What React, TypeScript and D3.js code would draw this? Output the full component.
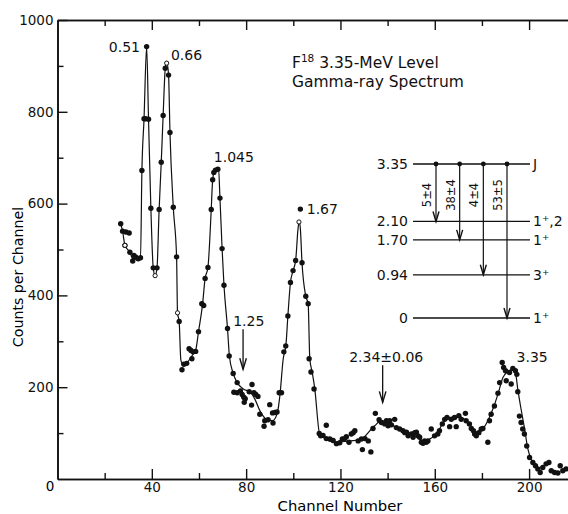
import React, { useEffect, useRef } from 'react';
import * as d3 from 'd3';

// measured points, [channel, counts per channel]
const peaksLow = [
  [26.8, 556], [27.6, 540], [29, 538], [30.4, 536], [28.6, 509], [30.7, 494], [31.9, 475],
  [32.4, 487], [33.2, 483], [34.2, 480], [35.2, 482], [35.8, 672], [36.7, 785], [37.4, 785],
  [37.8, 942], [38.6, 784], [39.6, 590], [40.6, 460], [42.2, 460], [43.1, 587], [44, 690],
  [44.8, 792], [45.7, 895], [47.1, 880], [47.7, 755], [49.1, 592], [50.5, 484], [51.6, 343],
];

const peak1045 = [
  [52.8, 238], [53.6, 250], [54.8, 252], [55.8, 284], [56.6, 280], [57.5, 277], [57, 262],
  [58.6, 278], [59.8, 321], [61.2, 382], [62, 378], [62.6, 437], [63.8, 461], [65.2, 587],
  [65.8, 652], [66.3, 668], [67, 673], [68, 675], [68.9, 612], [69.8, 502], [70.6, 422],
  [72.1, 328], [72.8, 268],
];

const dip125 = [
  [74.5, 230], [76.2, 210], [74.8, 189], [76.2, 188], [77.6, 192], [78.3, 184], [79, 178],
  [79.6, 175], [79.2, 167], [81.3, 190], [82.5, 206], [83.3, 188], [84.1, 184], [85, 180],
  [82.3, 161], [85.8, 141], [87.9, 127], [89.3, 129], [91.4, 122], [87.6, 115], [90, 162],
  [91.2, 144], [92.2, 145], [93.1, 146], [94, 188], [95, 188],
];

const peak167 = [
  [96, 277], [96.8, 290], [97.7, 355], [98.8, 428], [99.9, 454], [101, 476], [103, 588],
  [103.7, 471], [105.3, 398], [106.3, 382], [106.7, 262], [107.5, 233], [108.8, 196],
];

const bump234 = [
  [111, 99], [111.6, 94], [112.6, 95], [114, 117], [114, 88], [115.5, 87], [116.9, 84],
  [118.3, 77], [119.7, 79], [120.8, 87], [121.8, 88], [122.5, 92], [123.6, 80], [124.6, 98],
  [125.4, 101], [126.1, 105], [127.5, 83], [128.9, 87], [130.4, 88], [131.8, 83], [129.3, 64],
  [132.9, 59], [133.8, 110], [134.8, 143], [136.4, 129], [137.4, 123], [138.8, 120],
  [139.5, 127], [140.2, 116], [140.9, 127], [141.6, 118], [143, 130], [143.7, 112],
  [145.1, 109], [146.5, 105], [147.3, 101], [148, 102], [148.7, 94], [150.1, 98], [150.8, 91],
  [151.5, 101], [152.2, 102], [152.9, 94], [153.6, 91], [154.3, 80], [155, 78], [155.7, 83],
  [156.4, 80], [157.1, 83],
];

const peak335 = [
  [158.5, 109], [159.9, 94], [161.3, 98], [162, 105], [163.2, 120], [164.2, 130], [165.2, 134],
  [166.3, 114], [167, 130], [168.4, 134], [169.1, 114], [170.2, 138], [171.2, 130], [173, 143],
  [173.3, 127], [174.7, 120], [175.5, 110], [176.4, 105], [176.9, 98], [177.6, 94], [178.7, 101],
  [179.7, 109], [180.4, 110], [182.5, 80], [183.2, 127], [183.9, 141], [185.3, 159], [186.8, 187],
  [187.5, 210], [188.6, 254], [189.2, 243], [190, 236], [190.3, 214], [191.7, 232], [192.4, 207],
  [193.1, 241], [194.2, 236], [194.8, 228], [195.2, 190], [195.9, 137], [196.6, 123],
  [197.3, 109], [198, 98], [199, 72], [200.2, 47], [201.6, 36], [202.7, 29], [203.7, 22],
  [204.7, 14], [205.8, 25], [207.2, 33], [208.4, 36], [209.4, 18], [210.8, 14], [212.2, 13],
  [213.2, 29], [214.3, 18], [215.7, 22],
];

const openPoints = [[28.6, 509], [41.4, 443], [46.3, 906], [50.9, 362], [102.4, 560]];

// hand-drawn fit through the points
const fitCurve = [
  [26.8, 556], [27.6, 540], [28.6, 509], [30.7, 494], [31.9, 480], [33.5, 481], [35.2, 482],
  [35.8, 672], [36.7, 785], [37.8, 942], [38.6, 784], [39.6, 590], [40.6, 460], [41.4, 443],
  [42.2, 460], [43.1, 587], [44, 690], [44.8, 792], [45.7, 895], [46.3, 910], [47.1, 880],
  [47.7, 755], [49.1, 592], [50.5, 484], [50.9, 362], [51.6, 343], [52.3, 260], [53.2, 248],
  [55, 254], [57, 268], [58.7, 283], [59.8, 321], [61.5, 380], [62.6, 437], [63.8, 461],
  [65.2, 587], [65.8, 652], [66.5, 670], [67.5, 676], [68.3, 675], [68.9, 612], [69.8, 502],
  [70.6, 422], [72.1, 328], [72.9, 268], [74.5, 230], [76.2, 210], [78.8, 196], [81.6, 190],
  [83.7, 174], [85.8, 149], [88.7, 130], [91.2, 127], [93.2, 143], [94.3, 181], [95.7, 261],
  [96.9, 293], [97.7, 355], [98.8, 428], [99.9, 454], [101, 476], [102, 545], [102.5, 562],
  [103, 545], [103.7, 471], [105.3, 398], [106.3, 382], [107, 262], [108, 233], [109.1, 197],
  [111.2, 98], [118.3, 80], [123.9, 83], [128.1, 85], [134.5, 116], [137.3, 127], [140.9, 120],
  [146.5, 105], [152.2, 93], [156.4, 80], [157.8, 87], [159.9, 94], [162, 109], [164.2, 127],
  [166.3, 134], [170.5, 136], [173.3, 127], [176.2, 109], [178.3, 101], [180.4, 109],
  [182.5, 127], [184.6, 152], [186.8, 185], [188.9, 221], [191, 234], [193.1, 239], [194.2, 232],
  [195.2, 196], [196.6, 152], [198.1, 109], [199.5, 65], [200.9, 43], [203, 25], [204.4, 16],
];

const xMajor = [40, 80, 120, 160, 200];
const xMinor = [20, 60, 100, 140, 180];
const yMajor = [200, 400, 600, 800, 1000];
const yMinor = [100, 300, 500, 700, 900];

// peak labels: [text, channel, counts]
const peakLabels = [
  ['0.51', 35, 930, 'end'], ['0.66', 48.1, 913, 'start'], ['1.045', 66.3, 691, 'start'],
  ['1.67', 105.7, 578, 'start'], ['1.25', 81.1, 333, 'middle'], ['2.34±0.06', 139.4, 254, 'middle'],
  ['3.35', 194.7, 254, 'start'],
];
// arrows: [channel, from counts, to counts]
const peakArrows = [[78.7, 326, 239], [137.9, 248, 167]];

// F18 level scheme
const levelEnergies = [3.35, 2.10, 1.70, 0.94, 0];
const levelNames = ['3.35', '2.10', '1.70', '0.94', '0'];
const levelSpins = ['J', '1⁺,2', '1⁺', '3⁺', '1⁺'];
const branchTo = [2.10, 1.70, 0.94, 0];
const branchLabels = ['5±4', '38±4', '4±4', '53±5'];

const FONT = '"DejaVu Sans", sans-serif';

function App() {
  const ref = useRef(null);

  useEffect(() => {
    const svg = d3.select(ref.current);
    svg.selectAll('*').remove();

    const x = d3.scaleLinear().domain([0, 216.5]).range([57.5, 568]);
    const y = d3.scaleLinear().domain([0, 1000]).range([479, 20]);

    const g = svg.append('g');

    // axes with inward ticks
    const styleAxis = (sel) => {
      sel.selectAll('path').attr('stroke', '#111').attr('stroke-width', 1.6);
      sel.selectAll('line').attr('stroke', '#111').attr('stroke-width', 1.4);
      sel.selectAll('text').attr('font-family', FONT).attr('font-size', 13.5).attr('fill', '#111');
    };

    g.append('g').attr('transform', `translate(0,${y(0)})`)
      .call(d3.axisBottom(x).tickValues(xMajor).tickSize(-10).tickSizeOuter(0).tickPadding(3).tickFormat(d3.format('d')))
      .call(styleAxis);
    g.append('g').attr('transform', `translate(0,${y(0)})`)
      .call(d3.axisBottom(x).tickValues(xMinor).tickSize(-6).tickSizeOuter(0).tickFormat(() => ''))
      .call(styleAxis);
    g.append('g').attr('transform', `translate(0,${y(1000)})`)
      .call(d3.axisTop(x).tickValues(xMajor).tickSize(-10).tickSizeOuter(0).tickFormat(() => ''))
      .call(styleAxis);
    g.append('g').attr('transform', `translate(0,${y(1000)})`)
      .call(d3.axisTop(x).tickValues(xMinor).tickSize(-6).tickSizeOuter(0).tickFormat(() => ''))
      .call(styleAxis);
    g.append('g').attr('transform', `translate(${x(0)},0)`)
      .call(d3.axisLeft(y).tickValues(yMajor).tickSize(-10).tickSizeOuter(0).tickPadding(4).tickFormat(d3.format('d')))
      .call(styleAxis);
    g.append('g').attr('transform', `translate(${x(0)},0)`)
      .call(d3.axisLeft(y).tickValues(yMinor).tickSize(-6).tickSizeOuter(0).tickFormat(() => ''))
      .call(styleAxis);

    g.append('text').attr('x', 50).attr('y', 491).attr('text-anchor', 'middle')
      .attr('font-family', FONT).attr('font-size', 13.5).text('0');

    g.append('text').attr('x', 340).attr('y', 511).attr('text-anchor', 'middle')
      .attr('font-family', FONT).attr('font-size', 14.8).text('Channel Number');
    g.append('text').attr('transform', 'translate(23,277) rotate(-90)').attr('text-anchor', 'middle')
      .attr('font-family', FONT).attr('font-size', 14.2).text('Counts per Channel');

    // fitted line
    const line = d3.line().x(d => x(d[0])).y(d => y(d[1])).curve(d3.curveMonotoneX);
    g.append('path').datum(fitCurve).attr('d', line)
      .attr('fill', 'none').attr('stroke', '#111').attr('stroke-width', 1.2);

    const allPoints = [...peaksLow, ...peak1045, ...dip125, ...peak167, ...bump234, ...peak335];
    g.append('g').selectAll('circle').data(allPoints).enter().append('circle')
      .attr('cx', d => x(d[0])).attr('cy', d => y(d[1])).attr('r', 2.7).attr('fill', '#111');
    g.append('g').selectAll('circle').data(openPoints).enter().append('circle')
      .attr('cx', d => x(d[0])).attr('cy', d => y(d[1])).attr('r', 2.1)
      .attr('fill', '#fff').attr('stroke', '#111').attr('stroke-width', 1);

    // peak labels and arrows
    g.append('g').selectAll('text').data(peakLabels).enter().append('text')
      .attr('x', d => x(d[1])).attr('y', d => y(d[2])).attr('text-anchor', d => d[3])
      .attr('font-family', FONT).attr('font-size', 14).attr('fill', '#111').text(d => d[0]);
    peakArrows.forEach(([c, from, to]) => {
      const ax = x(c), y1 = y(from), y2 = y(to);
      g.append('line').attr('x1', ax).attr('x2', ax).attr('y1', y1).attr('y2', y2)
        .attr('stroke', '#111').attr('stroke-width', 1.3);
      g.append('path').attr('d', `M${ax - 3.3},${y2 - 11}L${ax},${y2}L${ax + 3.3},${y2 - 11}`)
        .attr('fill', 'none').attr('stroke', '#111').attr('stroke-width', 1.4);
    });

    // title
    const title = g.append('text').attr('x', 292).attr('y', 68)
      .attr('font-family', FONT).attr('font-size', 15.5).attr('fill', '#111');
    title.append('tspan').text('F');
    title.append('tspan').attr('font-size', 10.5).attr('dy', -6).text('18');
    title.append('tspan').attr('dy', 6).text(' 3.35-MeV Level');
    g.append('text').attr('x', 292).attr('y', 87)
      .attr('font-family', FONT).attr('font-size', 15.5).attr('fill', '#111').text('Gamma-ray Spectrum');

    // level scheme
    const e = d3.scaleLinear().domain([0, 3.35]).range([318, 164]);
    const bx = d3.scaleLinear().domain([0, branchTo.length - 1]).range([436, 507]);
    const lv = g.append('g');
    levelEnergies.forEach((en, i) => {
      lv.append('line').attr('x1', 413).attr('x2', 530).attr('y1', e(en)).attr('y2', e(en))
        .attr('stroke', '#111').attr('stroke-width', 1.3);
      lv.append('text').attr('x', 408).attr('y', e(en)).attr('dy', '0.35em').attr('text-anchor', 'end')
        .attr('font-family', FONT).attr('font-size', 14).attr('fill', '#111').text(levelNames[i]);
      lv.append('text').attr('x', 533).attr('y', e(en)).attr('dy', '0.35em')
        .attr('font-family', FONT).attr('font-size', 14).attr('fill', '#111').text(levelSpins[i]);
    });
    branchTo.forEach((to, i) => {
      const ax = bx(i), y1 = e(3.35), y2 = e(to);
      lv.append('circle').attr('cx', ax).attr('cy', y1).attr('r', 2.4).attr('fill', '#111');
      lv.append('line').attr('x1', ax).attr('x2', ax).attr('y1', y1).attr('y2', y2)
        .attr('stroke', '#111').attr('stroke-width', 1.2);
      lv.append('path').attr('d', `M${ax - 3},${y2 - 10}L${ax},${y2}L${ax + 3},${y2 - 10}`)
        .attr('fill', 'none').attr('stroke', '#111').attr('stroke-width', 1.4);
      lv.append('text').attr('transform', `translate(${ax - 5},${y1 + 31}) rotate(-90)`)
        .attr('text-anchor', 'middle').attr('font-family', FONT).attr('font-size', 11.5)
        .attr('fill', '#111').text(branchLabels[i]);
    });
  }, []);

  return (
    <svg ref={ref} width={568} height={514}
      style={{ position: 'absolute', left: 0, top: 0, background: '#fff' }} />
  );
}

export default App;
